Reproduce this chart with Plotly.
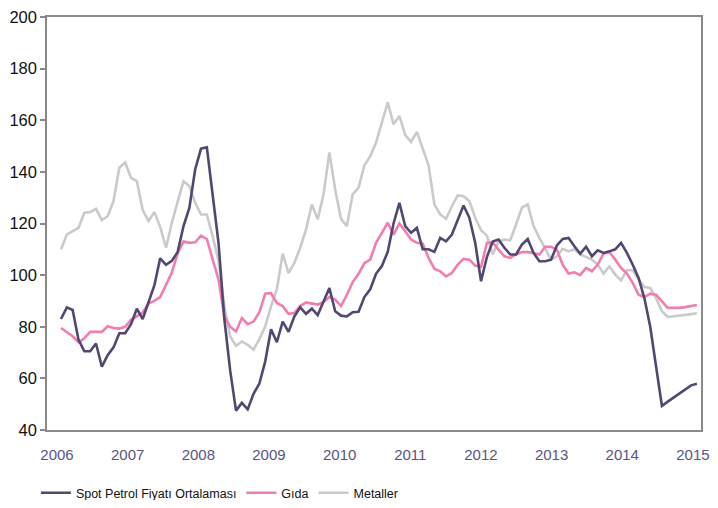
import numpy as np
import plotly.graph_objects as go

years = ["2006", "2007", "2008", "2009", "2010", "2011", "2012", "2013", "2014", "2015"]

oil = [83, 87.5, 86.5, 75, 70.5, 70.5, 73.5, 64.5, 69, 72, 77.5, 77.5,
       81, 87, 83, 89.5, 96, 106.5, 104, 105.5, 109, 119, 126, 141,
       149, 149.5, 132, 112.5, 83, 63, 47.5, 50.5, 48, 54, 58, 66.5,
       79, 74, 82, 78, 84, 87.5, 85, 87, 84.5, 89.5, 95, 86,
       84.3, 84, 85.6, 85.8, 91.5, 94.5, 100.5, 103.5, 109, 120, 128, 119,
       116.4, 118.3, 110, 110, 109, 114.4, 113.1, 115.7, 121.6, 127, 122.2, 112.5,
       97.6, 107, 113, 113.8, 110.6, 108, 108, 111.8, 114, 108.6, 105.4, 105.4,
       106, 111.5, 114, 114.4, 111.2, 108.3, 111, 107.3, 109.6, 108.6, 109.2, 110,
       112.5, 108.6, 104, 98.9, 91, 80, 64.6, 49.3, 51, 52.6, 54.2, 55.8,
       57.3, 57.9]

gida = [79.5, 78, 76.3, 74, 75.5, 78, 78, 78, 80.2, 79.5, 79.3, 80,
        82.7, 84, 85.5, 89, 90, 91.5, 96, 101, 108.5, 113, 112.5, 112.7,
        115.3, 114, 106, 98.3, 84, 80, 78.2, 83.4, 81, 82, 85.6, 92.8,
        93, 89.2, 88, 85, 85.3, 88, 89.4, 89, 88.6, 89.5, 91.5, 90.5,
        88, 92.4, 97.3, 100.5, 104.6, 106, 112.5, 116.4, 120.3, 115.7, 120, 117,
        113.8, 112.5, 112.2, 106.7, 102.5, 101.5, 99.5, 100.8, 104.1, 106.3, 106, 103.7,
        103.2, 112.5, 112.7, 109.9, 107.3, 106.7, 108, 108.9, 108.9, 108.6, 108, 111,
        111, 109.9, 104, 100.6, 101.1, 100, 102.8, 101.5, 104.1, 108.3, 109, 106,
        102.8, 100.6, 97, 92.4, 91.5, 92.8, 92.4, 89.8, 87.3, 87.3, 87.3, 87.6,
        88, 88.4]

metaller = [110, 115.7, 117, 118.3, 124.2, 124.4, 125.7, 121.3, 122.8, 128.7, 141.6, 143.6,
            137.7, 136.4, 125.2, 121, 124.4, 118.7, 110.6, 120.3, 128.5, 136.4, 134.5, 128,
            123.5, 123.5, 115, 105.4, 88, 76.2, 72.6, 74.3, 73, 71.1, 75.2, 80.1,
            87.9, 94.6, 108.3, 100.8, 104.7, 110.6, 117.7, 127.4, 121.6, 131.3, 147.5, 133.2,
            121.8, 119, 131.3, 133.9, 142.5, 146.1, 151.3, 159, 166.9, 158.4, 161.7, 154.2,
            151.6, 155.5, 149.4, 142.5, 127.4, 123.5, 121.8, 126.7, 130.9, 130.6, 128.7, 122.2,
            117.4, 115.3, 108, 113.1, 113.8, 113.5, 119.6, 126.1, 127.4, 119, 114.4, 110.2,
            106, 107.3, 110.2, 109.2, 110, 108, 107.1, 106, 104.1, 100.6, 103.4, 100.2,
            98, 101.9, 101.9, 98.3, 95.4, 95, 91.1, 86, 83.8, 84, 84.3, 84.6,
            84.9, 85.2]

n = len(oil)
x = list(range(n))
tickvals = list(np.linspace(0, n - 1, len(years)))

FONT = "Liberation Sans, Arial, sans-serif"

fig = go.Figure()
fig.add_trace(go.Scatter(x=x, y=metaller, mode="lines", name="Metaller",
                         line=dict(color="#cacaca", width=2.6)))
fig.add_trace(go.Scatter(x=x, y=gida, mode="lines", name="Gıda",
                         line=dict(color="#f37cb1", width=2.6)))
fig.add_trace(go.Scatter(x=x, y=oil, mode="lines", name="Spot Petrol Fiyatı Ortalaması",
                         line=dict(color="#514872", width=2.6)))

# the page body has an 8px margin: keep the figure inside the body box
fig.update_layout(
    width=702, height=492,
    margin=dict(l=39, r=9, t=9, b=70, autoexpand=False),
    paper_bgcolor="white", plot_bgcolor="white",
    font=dict(family=FONT, color="#222222"),
    showlegend=True,
    legend=dict(orientation="h", x=-0.017, xanchor="left", y=-0.153, yanchor="middle",
                traceorder="reversed", itemwidth=30,
                font=dict(size=12.5, color="#111111", family=FONT)),
    xaxis=dict(range=[-2.4, 109.7], tickmode="array", tickvals=tickvals, ticktext=years,
               showgrid=False, zeroline=False, ticks="", showline=True,
               linecolor="#8a8a8a", linewidth=1.5, mirror=True, automargin=False,
               ticklabeloverflow="allow", ticklabelshift=-4,
               tickfont=dict(size=15, color="#5b5483", family=FONT),
               ticklabelstandoff=10),
    yaxis=dict(range=[40, 200], dtick=20, showgrid=False, zeroline=False,
               ticks="outside", ticklen=5, tickcolor="#8a8a8a", tickwidth=1.5,
               showline=True, linecolor="#8a8a8a", linewidth=1.5, mirror=True,
               automargin=False, ticklabeloverflow="allow",
               tickfont=dict(size=16.5, color="#111111", family=FONT),
               ticklabelstandoff=0),
)

fig.write_html("out.html")
